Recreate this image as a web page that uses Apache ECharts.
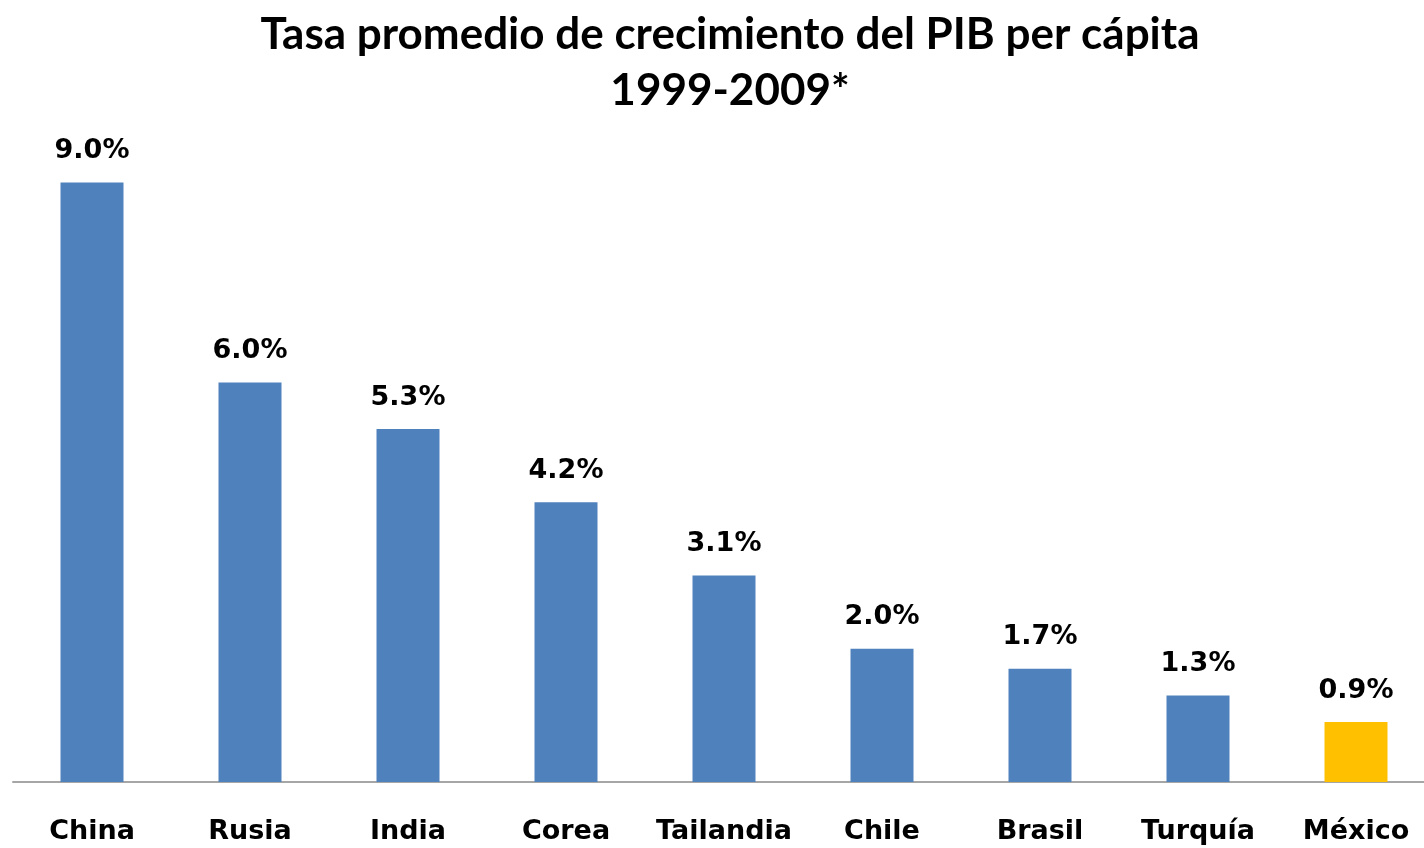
<!DOCTYPE html>
<html>
<head>
<meta charset="utf-8">
<script src="https://cdn.jsdelivr.net/npm/echarts@6/dist/echarts.min.js"></script>
<style>
  html, body { margin: 0; padding: 0; background: #fff; overflow: hidden; }
  /* a little wider than the window: the plot area runs past the right edge */
  #chart { width: 1436px; height: 848px; }
</style>
</head>
<body>
<div id="chart"></div>
<script>
const countries = ['China', 'Rusia', 'India', 'Corea', 'Tailandia', 'Chile', 'Brasil', 'Turquía', 'México']
const growth = [9.0, 6.0, 5.3, 4.2, 3.1, 2.0, 1.7, 1.3, 0.9]
const highlight = 'México'

const chart = echarts.init(document.getElementById('chart'))

chart.setOption({
    animation: false,
    title: {
        text: 'Tasa promedio de crecimiento del PIB per cápita\n1999-2009*',
        left: 725,
        textAlign: 'center',
        top: 2,
        textStyle: {
            fontFamily: 'Lato',
            fontWeight: 'bold',
            fontSize: 44,
            lineHeight: 56,
            color: '#000'
        }
    },
    grid: {
        left: 13,
        right: 1,
        top: 116,
        bottom: 66
    },
    xAxis: {
        type: 'category',
        data: countries,
        axisLine: { lineStyle: { color: '#a6a6a6', width: 2 } },
        axisTick: { show: false },
        axisLabel: {
            interval: 0,
            margin: 36,
            fontFamily: 'DejaVu Sans',
            fontWeight: 'bold',
            fontSize: 27,
            color: '#000'
        }
    },
    yAxis: {
        type: 'value',
        min: 0,
        max: 10,
        show: false,
        splitLine: { show: false }
    },
    series: [
        {
            type: 'bar',
            barWidth: 63,
            data: growth.map((v, i) => ({
                value: v,
                itemStyle: { color: countries[i] === highlight ? '#ffc000' : '#4f81bd' }
            })),
            label: {
                show: true,
                position: 'top',
                distance: 18,
                formatter: p => p.value.toFixed(1) + '%',
                fontFamily: 'DejaVu Sans',
                fontWeight: 'bold',
                fontSize: 27,
                color: '#000'
            }
        }
    ]
})
</script>
</body>
</html>
